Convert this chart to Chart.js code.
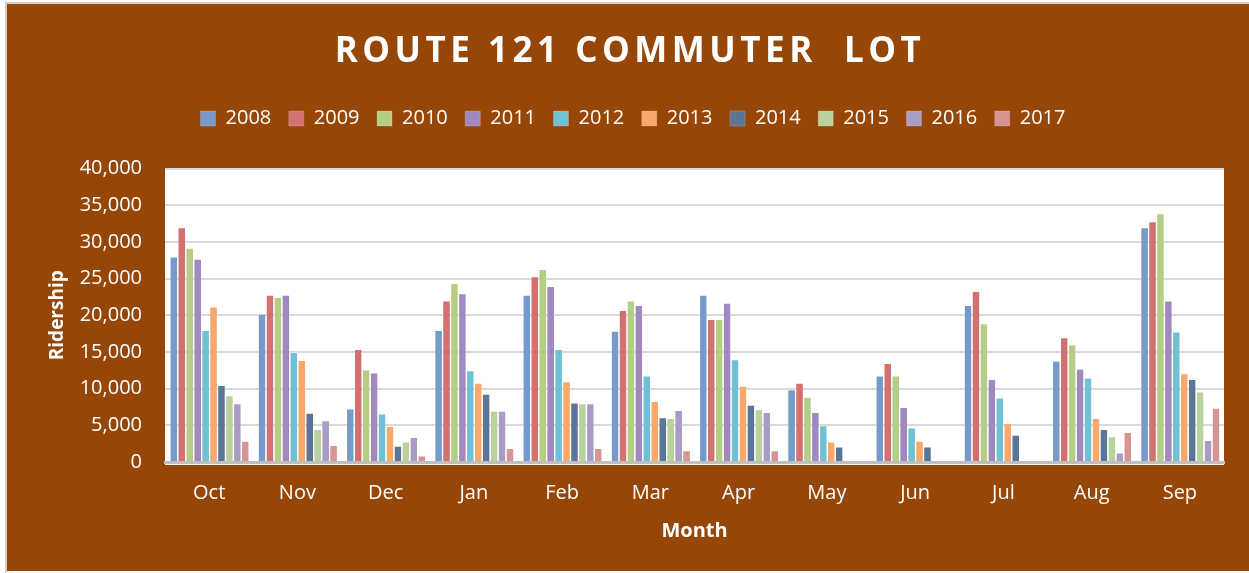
<!DOCTYPE html>
<html>
<head>
<meta charset="utf-8">
<script src="https://cdn.jsdelivr.net/npm/chart.js@4"></script>
<style>
  html, body { margin: 0; padding: 0; background: #ffffff; }
  #frame { position: absolute; left: 5px; top: 2px; width: 1244px; height: 569px; border-left: 2px solid #cfcfcf; border-top: 2px solid #cfcfcf; }
  #wrap { position: absolute; left: 7px; top: 4px; width: 1242px; height: 567px; }
</style>
</head>
<body>
<div id="frame"></div>
<div id="wrap"><canvas id="chart"></canvas></div>
<script>
// --- data ---
const months = ['Oct', 'Nov', 'Dec', 'Jan', 'Feb', 'Mar', 'Apr', 'May', 'Jun', 'Jul', 'Aug', 'Sep'];
const years = ['2008', '2009', '2010', '2011', '2012', '2013', '2014', '2015', '2016', '2017'];

const y2008 = [28000, 20200, 7300, 18000, 22800, 17900, 22800, 9900, 11800, 21400, 13800, 32000];
const y2009 = [32000, 22800, 15400, 22000, 25300, 20700, 19500, 10800, 13500, 23300, 17000, 32800];
const y2010 = [29200, 22500, 12600, 24400, 26300, 22000, 19500, 8900, 11800, 18900, 16000, 33900];
const y2011 = [27700, 22800, 12200, 23000, 24000, 21400, 21700, 6800, 7500, 11300, 12700, 22000];
const y2012 = [18000, 15000, 6600, 12500, 15400, 11800, 14000, 5000, 4700, 8800, 11500, 17800];
const y2013 = [21200, 13900, 4900, 10800, 11000, 8300, 10400, 2800, 2900, 5300, 6000, 12100];
const y2014 = [10500, 6700, 2200, 9300, 8100, 6100, 7800, 2100, 2100, 3700, 4500, 11300];
const y2015 = [9100, 4500, 2800, 7000, 8000, 6000, 7200, null, null, null, 3500, 9600];
const y2016 = [8000, 5700, 3400, 7000, 8000, 7100, 6800, null, null, null, 1300, 3000];
const y2017 = [2900, 2300, 900, 1900, 1900, 1600, 1600, null, null, null, 4100, 7400];

const yTicks = [0, 5000, 10000, 15000, 20000, 25000, 30000, 35000, 40000];

const series = [y2008, y2009, y2010, y2011, y2012, y2013, y2014, y2015, y2016, y2017];
const colors = ['#769bca', '#d2716f', '#b5ce86', '#a089bf', '#71c1d5', '#f8a86b', '#5b7596', '#b9d19b', '#aa9dc5', '#d69495'];

const BROWN = '#964707';
const TITLE = 'ROUTE 121 COMMUTER  LOT';

// brown page, white plot area, spaced-out title
const pageDeco = {
    id: 'pageDeco',
    beforeDraw(chart) {
        const { ctx, chartArea: a } = chart;
        ctx.save();
        ctx.fillStyle = BROWN;
        ctx.fillRect(0, 0, chart.width, chart.height);
        ctx.fillStyle = '#ffffff';
        ctx.fillRect(a.left, a.top, a.right - a.left, a.bottom - a.top + 3);
        ctx.restore();
    },
    afterDraw(chart) {
        const ctx = chart.ctx;
        ctx.save();
        ctx.font = 'bold 35px "Open Sans"';
        ctx.letterSpacing = '4.5px';
        ctx.fillStyle = '#ffffff';
        ctx.textAlign = 'center';
        ctx.textBaseline = 'middle';
        ctx.fillText(TITLE, chart.width / 2 + 2, 48);
        ctx.restore();
    }
};

new Chart(document.getElementById('chart'), {
    type: 'bar',
    data: {
        labels: months,
        datasets: years.map((yr, i) => ({
            label: yr,
            data: series[i],
            backgroundColor: colors[i],
            borderColor: 'rgba(255,255,255,0.35)',
            borderWidth: { left: 1, right: 0, top: 1, bottom: 0 },
            categoryPercentage: 0.9,
            barPercentage: 0.96
        }))
    },
    options: {
        responsive: true,
        maintainAspectRatio: false,
        animation: false,
        layout: { padding: { top: 87, right: 25, left: 35, bottom: 24 } },
        plugins: {
            title: { display: false },
            subtitle: {
                // empty spacer between legend and plot
                display: true,
                text: ' ',
                weight: 500,
                font: { size: 10 },
                padding: { top: 0, bottom: 18 }
            },
            legend: {
                position: 'top',
                labels: {
                    color: '#ffffff',
                    boxWidth: 15,
                    boxHeight: 15,
                    padding: 17.5,
                    font: { family: 'Open Sans', size: 20 }
                }
            },
            tooltip: { enabled: false }
        },
        scales: {
            x: {
                afterFit(axis) { axis.height = 85; },
                grid: { display: false, drawTicks: false },
                border: { display: true, color: '#bfbfbf', width: 3 },
                ticks: { color: '#ffffff', padding: 19, font: { family: 'Open Sans', size: 20 } },
                title: {
                    display: true, text: 'Month', color: '#ffffff',
                    font: { family: 'Open Sans', size: 20, weight: 'bold' },
                    padding: { top: 4, bottom: 4 }
                }
            },
            y: {
                min: 0,
                max: 40000,
                afterFit(axis) { axis.width = 123; },
                afterBuildTicks(axis) { axis.ticks = yTicks.map(v => ({ value: v })); },
                grid: { color: '#d9d9d9', lineWidth: 2, drawTicks: false },
                border: { display: false },
                ticks: {
                    color: '#ffffff', padding: 23,
                    font: { family: 'Open Sans', size: 20 },
                    callback: v => v.toLocaleString('en-US')
                },
                title: {
                    display: true, text: 'Ridership', color: '#ffffff',
                    font: { family: 'Open Sans', size: 19, weight: 'bold' },
                    padding: { top: 4, bottom: 4 }
                }
            }
        }
    },
    plugins: [pageDeco]
});
</script>
</body>
</html>
